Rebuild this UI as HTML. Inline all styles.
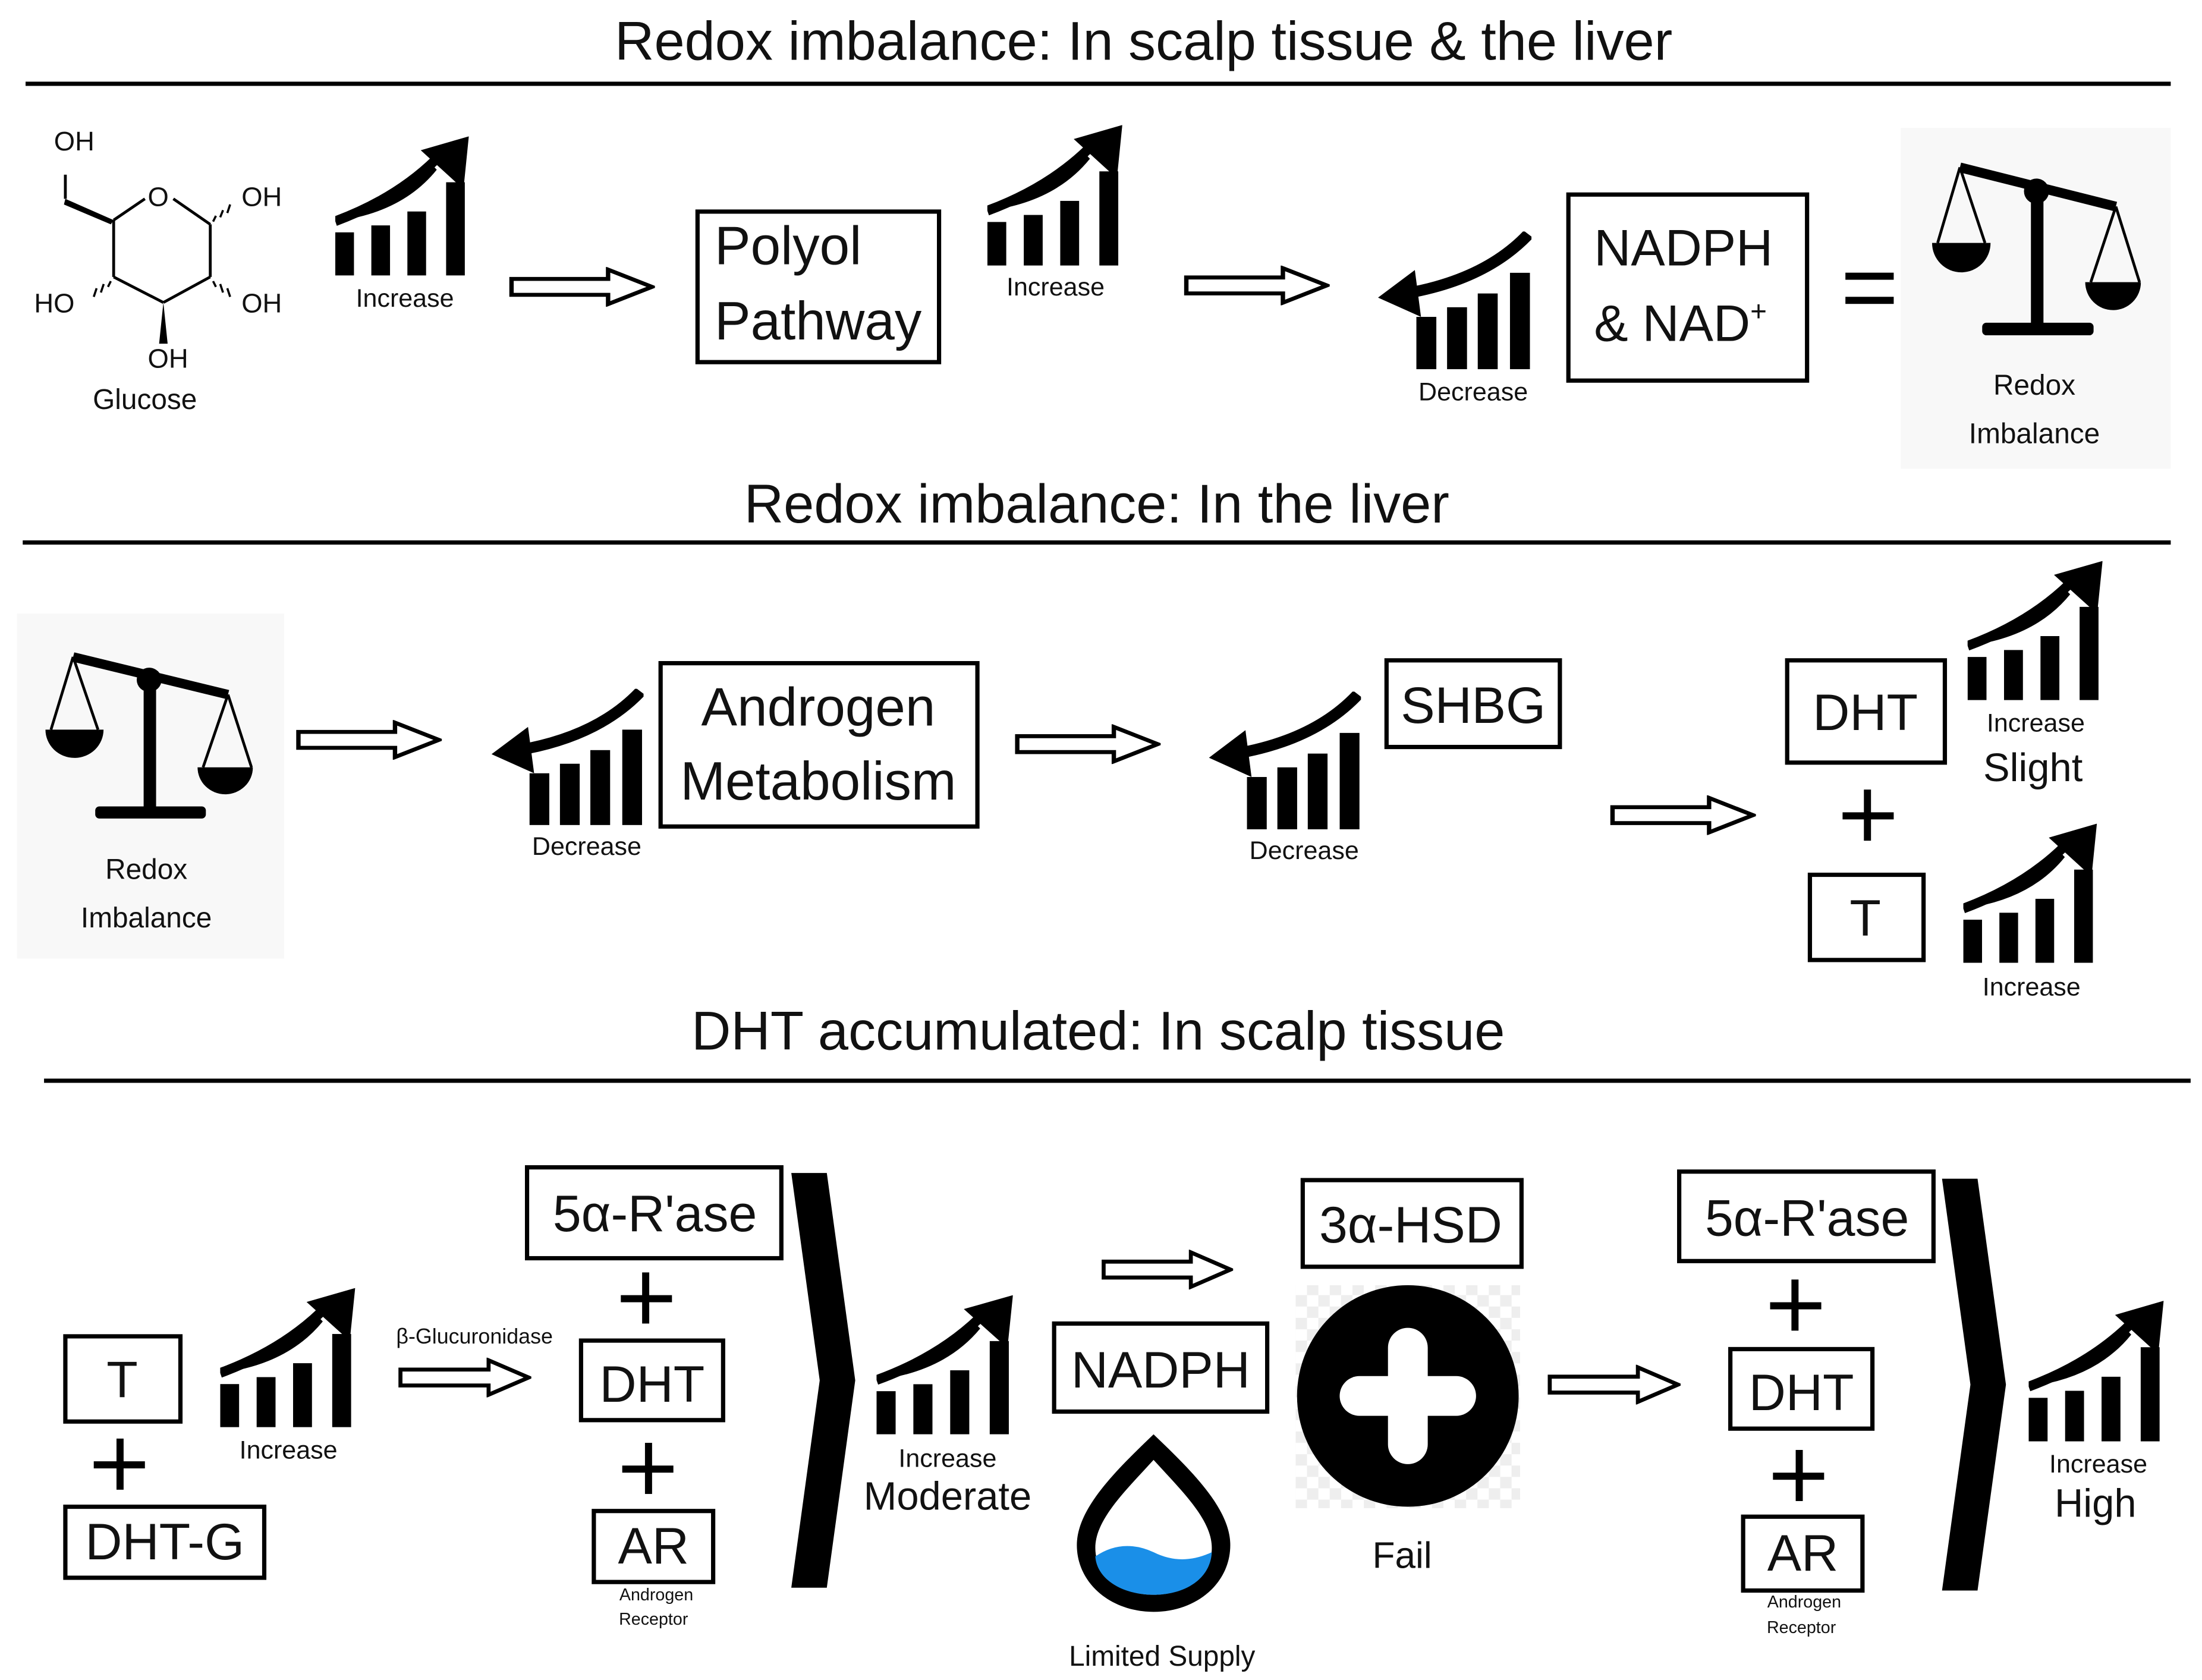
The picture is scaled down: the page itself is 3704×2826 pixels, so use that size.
<!DOCTYPE html>
<html><head><meta charset="utf-8"><style>
html,body{margin:0;padding:0;background:#fff}
svg{display:block}
text{font-family:"Liberation Sans","DejaVu Sans",sans-serif;fill:#111}
</style></head><body>
<svg width="3704" height="2826" viewBox="0 0 1550 1183" preserveAspectRatio="none" xmlns="http://www.w3.org/2000/svg">
<defs>
<symbol id="inc" viewBox="0 0 100 100" preserveAspectRatio="none">
<rect x="0" y="69" width="14" height="31"/>
<rect x="27" y="64" width="14" height="36"/>
<rect x="54" y="54" width="14" height="46"/>
<rect x="83" y="33" width="14" height="67"/>
<path d="M0,61 Q40,50 72,20 L76,24 Q50,55 0,61 Z" />
<path d="M0,61 Q45,45 75,17" stroke="#000" stroke-width="7" fill="none"/>
<polygon points="64,10 100,0 96,38"/>
</symbol>
<symbol id="dec" viewBox="0 0 100 100" preserveAspectRatio="none">
<rect x="25" y="62" width="13" height="38"/>
<rect x="45" y="55" width="13" height="45"/>
<rect x="65" y="45" width="13" height="55"/>
<rect x="86" y="30" width="13" height="70"/>
<path d="M98,2 Q70,35 18,45" stroke="#000" stroke-width="8" fill="none"/>
<polygon points="0,48 24,28 28,62"/>
</symbol>
<symbol id="scale" viewBox="0 0 150 135" preserveAspectRatio="none">
<line x1="20" y1="8" x2="132" y2="36" stroke="#000" stroke-width="7"/>
<rect x="71" y="24" width="9" height="100"/>
<rect x="36" y="119" width="80" height="9" rx="3"/>
<circle cx="75" cy="25" r="9"/>
<line x1="20" y1="8" x2="4" y2="62" stroke="#000" stroke-width="2"/>
<line x1="20" y1="8" x2="38" y2="62" stroke="#000" stroke-width="2"/>
<path d="M0,62 L42,62 A21,21 0 0 1 0,62 Z"/>
<line x1="132" y1="36" x2="114" y2="90" stroke="#000" stroke-width="2"/>
<line x1="132" y1="36" x2="149" y2="90" stroke="#000" stroke-width="2"/>
<path d="M110,90 L150,90 A20,20 0 0 1 110,90 Z"/>
</symbol>
<symbol id="arr" viewBox="0 0 100 30" preserveAspectRatio="none">
<polygon points="2,9 68,9 68,2 98,15 68,28 68,21 2,21" fill="#fff" stroke="#000" stroke-width="3"/>
</symbol>
<pattern id="chk" width="16" height="16" patternUnits="userSpaceOnUse">
<rect width="16" height="16" fill="#fff"/><rect width="8" height="8" fill="#eee"/><rect x="8" y="8" width="8" height="8" fill="#eee"/>
</pattern>
</defs>

<g fill="#000">
<!-- Section 1 -->
<text x="805" y="42" font-size="38.5" text-anchor="middle">Redox imbalance: In scalp tissue &amp; the liver</text>
<line x1="18" y1="59" x2="1528" y2="59" stroke="#000" stroke-width="3"/>

<!-- glucose -->
<g stroke="#000" stroke-width="2" fill="none">
<line x1="80" y1="155" x2="102" y2="140"/>
<line x1="122" y1="140" x2="148" y2="158"/>
<line x1="148" y1="158" x2="148" y2="195"/>
<line x1="148" y1="195" x2="115" y2="213"/>
<line x1="115" y1="213" x2="80" y2="195"/>
<line x1="80" y1="195" x2="80" y2="155"/>
<line x1="46" y1="123" x2="46" y2="140"/>
</g>
<polygon points="46,140 80,155 78,158 45,144"/>
<polygon points="115,213 112,242 118,242"/>
<g stroke="#000" stroke-width="1.5">
<line x1="150" y1="156" x2="152" y2="152"/><line x1="155" y1="153" x2="157" y2="148"/><line x1="160" y1="150" x2="162" y2="144"/>
<line x1="150" y1="198" x2="152" y2="202"/><line x1="155" y1="200" x2="157" y2="206"/><line x1="160" y1="203" x2="162" y2="209"/>
<line x1="78" y1="198" x2="76" y2="202"/><line x1="73" y1="200" x2="71" y2="206"/><line x1="68" y1="203" x2="66" y2="209"/>
</g>
<text x="38" y="106" font-size="19">OH</text>
<text x="104" y="145" font-size="19">O</text>
<text x="170" y="145" font-size="19">OH</text>
<text x="24" y="220" font-size="19">HO</text>
<text x="170" y="220" font-size="19">OH</text>
<text x="104" y="259" font-size="19">OH</text>
<text x="102" y="288" font-size="20" text-anchor="middle">Glucose</text>

<use href="#inc" x="236" y="96" width="94" height="98"/>
<text x="285" y="216" font-size="18" text-anchor="middle">Increase</text>
<use href="#arr" x="358" y="188" width="103" height="28"/>
<rect x="491" y="149" width="170" height="106" fill="none" stroke="#000" stroke-width="3"/>
<text x="503" y="186" font-size="38">Polyol</text>
<text x="503" y="239" font-size="38">Pathway</text>
<use href="#inc" x="695" y="88" width="95" height="99"/>
<text x="743" y="208" font-size="18" text-anchor="middle">Increase</text>
<use href="#arr" x="833" y="187" width="103" height="28"/>
<use href="#dec" x="970" y="163" width="108" height="97"/>
<text x="1037" y="282" font-size="18" text-anchor="middle">Decrease</text>
<rect x="1104" y="137" width="168" height="131" fill="none" stroke="#000" stroke-width="3"/>
<text x="1185" y="187" font-size="36" text-anchor="middle">NADPH</text>
<text x="1122" y="240" font-size="36">&amp; NAD<tspan font-size="20" dy="-14">+</tspan></text>
<rect x="1299" y="192" width="34" height="5"/><rect x="1299" y="209" width="34" height="5"/>
<rect x="1338" y="90" width="190" height="240" fill="#f8f8f8"/>
<use href="#scale" x="1360" y="110" width="147" height="133"/>
<text x="1432" y="278" font-size="20" text-anchor="middle">Redox</text>
<text x="1432" y="312" font-size="20" text-anchor="middle">Imbalance</text>

<!-- Section 2 -->
<text x="772" y="368" font-size="38.5" text-anchor="middle">Redox imbalance: In the liver</text>
<line x1="16" y1="382" x2="1528" y2="382" stroke="#000" stroke-width="3"/>
<rect x="12" y="432" width="188" height="243" fill="#f8f8f8"/>
<use href="#scale" x="32" y="455" width="146" height="128"/>
<text x="103" y="619" font-size="20" text-anchor="middle">Redox</text>
<text x="103" y="653" font-size="20" text-anchor="middle">Imbalance</text>
<use href="#arr" x="208" y="507" width="103" height="28"/>
<use href="#dec" x="346" y="485" width="107" height="96"/>
<text x="413" y="602" font-size="18" text-anchor="middle">Decrease</text>
<rect x="465" y="467" width="223" height="115" fill="none" stroke="#000" stroke-width="3"/>
<text x="576" y="511" font-size="38" text-anchor="middle">Androgen</text>
<text x="576" y="563" font-size="38" text-anchor="middle">Metabolism</text>
<use href="#arr" x="714" y="510" width="103" height="28"/>
<use href="#dec" x="851" y="487" width="107" height="97"/>
<text x="918" y="605" font-size="18" text-anchor="middle">Decrease</text>
<rect x="976" y="465" width="122" height="61" fill="none" stroke="#000" stroke-width="3"/>
<text x="1037" y="509" font-size="36" text-anchor="middle">SHBG</text>
<use href="#arr" x="1133" y="560" width="103" height="28"/>
<rect x="1258" y="465" width="111" height="72" fill="none" stroke="#000" stroke-width="3"/>
<text x="1313" y="514" font-size="36" text-anchor="middle">DHT</text>
<rect x="1297" y="572" width="36" height="5"/><rect x="1312" y="556" width="5" height="36"/>
<rect x="1274" y="616" width="80" height="60" fill="none" stroke="#000" stroke-width="3"/>
<text x="1313" y="659" font-size="36" text-anchor="middle">T</text>
<use href="#inc" x="1385" y="395" width="95" height="98"/>
<text x="1433" y="515" font-size="18" text-anchor="middle">Increase</text>
<text x="1431" y="550" font-size="28" text-anchor="middle">Slight</text>
<use href="#inc" x="1382" y="580" width="94" height="98"/>
<text x="1430" y="701" font-size="18" text-anchor="middle">Increase</text>

<!-- Section 3 -->
<text x="773" y="739" font-size="38.5" text-anchor="middle">DHT accumulated: In scalp tissue</text>
<line x1="31" y1="761" x2="1542" y2="761" stroke="#000" stroke-width="3"/>
<rect x="46" y="941" width="81" height="60" fill="none" stroke="#000" stroke-width="3"/>
<text x="86" y="984" font-size="36" text-anchor="middle">T</text>
<rect x="66" y="1029" width="36" height="5"/><rect x="82" y="1013" width="5" height="36"/>
<rect x="46" y="1061" width="140" height="50" fill="none" stroke="#000" stroke-width="3"/>
<text x="116" y="1098" font-size="36" text-anchor="middle">DHT-G</text>
<use href="#inc" x="155" y="907" width="95" height="98"/>
<text x="203" y="1027" font-size="18" text-anchor="middle">Increase</text>
<text x="334" y="946" font-size="15" text-anchor="middle" font-family="Liberation Serif, serif">β-Glucuronidase</text>
<use href="#arr" x="280" y="956" width="94" height="28"/>

<rect x="371" y="822" width="179" height="64" fill="none" stroke="#000" stroke-width="3"/>
<text x="461" y="867" font-size="36" text-anchor="middle">5α-R'ase</text>
<rect x="437" y="912" width="36" height="5"/><rect x="452" y="896" width="5" height="36"/>
<rect x="409" y="944" width="100" height="56" fill="none" stroke="#000" stroke-width="3"/>
<text x="459" y="987" font-size="36" text-anchor="middle">DHT</text>
<rect x="438" y="1032" width="36" height="5"/><rect x="454" y="1016" width="5" height="36"/>
<rect x="418" y="1064" width="84" height="50" fill="none" stroke="#000" stroke-width="3"/>
<text x="460" y="1101" font-size="36" text-anchor="middle">AR</text>
<text x="462" y="1127" font-size="12" text-anchor="middle">Androgen</text>
<text x="460" y="1144" font-size="12" text-anchor="middle">Receptor</text>
<polygon points="557,826 582,826 602,972 582,1118 557,1118 577,972"/>
<use href="#inc" x="617" y="912" width="96" height="98"/>
<text x="667" y="1033" font-size="18" text-anchor="middle">Increase</text>
<text x="667" y="1063" font-size="28" text-anchor="middle">Moderate</text>
<use href="#arr" x="775" y="880" width="93" height="28"/>
<rect x="742" y="932" width="150" height="62" fill="none" stroke="#000" stroke-width="3"/>
<text x="817" y="977" font-size="36" text-anchor="middle">NADPH</text>
<path d="M812,1010 C838,1035 866,1062 866,1088 C866,1115 842,1135 812,1135 C782,1135 758,1115 758,1088 C758,1062 786,1035 812,1010 Z"/>
<path d="M812,1028 C832,1050 853,1070 853,1090 C853,1110 834,1123 812,1123 C790,1123 771,1110 771,1090 C771,1070 792,1050 812,1028 Z" fill="#fff"/>
<path d="M771,1096 Q790,1083 812,1093 Q832,1103 853,1093 C852,1112 834,1123 812,1123 C790,1123 772,1112 771,1096 Z" fill="#1a8fe8"/>
<text x="818" y="1173" font-size="20" text-anchor="middle">Limited Supply</text>
<rect x="917" y="831" width="154" height="61" fill="none" stroke="#000" stroke-width="3"/>
<text x="993" y="875" font-size="36" text-anchor="middle">3α-HSD</text>
<rect x="912" y="905" width="158" height="157" fill="url(#chk)"/>
<circle cx="991" cy="983" r="78"/>
<g stroke="#fff" stroke-width="28" stroke-linecap="round">
<line x1="991" y1="949" x2="991" y2="1017"/>
<line x1="957" y1="983" x2="1025" y2="983"/>
</g>
<text x="987" y="1104" font-size="26" text-anchor="middle">Fail</text>
<use href="#arr" x="1089" y="961" width="94" height="28"/>

<rect x="1182" y="825" width="179" height="63" fill="none" stroke="#000" stroke-width="3"/>
<text x="1272" y="870" font-size="36" text-anchor="middle">5α-R'ase</text>
<rect x="1246" y="917" width="36" height="5"/><rect x="1261" y="901" width="5" height="36"/>
<rect x="1218" y="950" width="100" height="56" fill="none" stroke="#000" stroke-width="3"/>
<text x="1268" y="993" font-size="36" text-anchor="middle">DHT</text>
<rect x="1248" y="1037" width="36" height="5"/><rect x="1264" y="1021" width="5" height="36"/>
<rect x="1227" y="1068" width="84" height="52" fill="none" stroke="#000" stroke-width="3"/>
<text x="1269" y="1106" font-size="36" text-anchor="middle">AR</text>
<text x="1270" y="1132" font-size="12" text-anchor="middle">Androgen</text>
<text x="1268" y="1150" font-size="12" text-anchor="middle">Receptor</text>
<polygon points="1367,830 1392,830 1412,975 1392,1120 1367,1120 1387,975"/>
<use href="#inc" x="1428" y="916" width="95" height="99"/>
<text x="1477" y="1037" font-size="18" text-anchor="middle">Increase</text>
<text x="1475" y="1068" font-size="28" text-anchor="middle">High</text>
</g>
</svg>
</body></html>
